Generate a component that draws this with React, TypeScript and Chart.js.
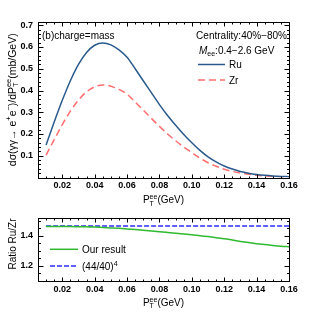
import React, { useEffect, useRef } from 'react';
import { Chart, registerables } from 'chart.js';

Chart.register(...registerables);

const FONT = '"Liberation Sans", Arial, sans-serif';

// ---- data ----
const pT = [
  0.010, 0.015, 0.020, 0.025, 0.030, 0.035, 0.040, 0.045, 0.050, 0.055,
  0.060, 0.065, 0.070, 0.075, 0.080, 0.085, 0.090, 0.095, 0.100, 0.105,
  0.110, 0.115, 0.120, 0.125, 0.130, 0.135, 0.140, 0.145, 0.150, 0.155, 0.160,
];
const ruYield = [
  0.150, 0.255, 0.355, 0.445, 0.520, 0.575, 0.608, 0.618, 0.610, 0.587,
  0.553, 0.500, 0.445, 0.390, 0.335, 0.285, 0.240, 0.198, 0.160, 0.125,
  0.095, 0.072, 0.053, 0.039, 0.028, 0.020, 0.014, 0.010, 0.007, 0.005, 0.004,
];
const zrYield = [
  0.103, 0.174, 0.243, 0.305, 0.356, 0.394, 0.417, 0.425, 0.420, 0.405,
  0.383, 0.347, 0.310, 0.272, 0.235, 0.200, 0.169, 0.140, 0.114, 0.089,
  0.068, 0.052, 0.038, 0.028, 0.021, 0.015, 0.010, 0.0075, 0.0052, 0.0038, 0.003,
];
const ratioOurs = [
  1.462, 1.462, 1.461, 1.461, 1.460, 1.459, 1.458, 1.455, 1.452, 1.449,
  1.445, 1.441, 1.437, 1.432, 1.427, 1.422, 1.417, 1.412, 1.407, 1.400,
  1.394, 1.387, 1.380, 1.371, 1.362, 1.354, 1.347, 1.341, 1.335, 1.330, 1.327,
];
const refX = [0.01, 0.16];
const refRatio = [1.4641, 1.4641];

const xTickVals = [0.02, 0.04, 0.06, 0.08, 0.10, 0.12, 0.14, 0.16];
const topYTickVals = [0.1, 0.2, 0.3, 0.4, 0.5, 0.6, 0.7];
const botYTickVals = [1.2, 1.4];

// ---- rich text helper ----
type Seg = { t?: string; it?: boolean; sup?: string; sub?: string };

function fnt(size: number, it?: boolean, bold?: boolean) {
  return `${it ? 'italic ' : ''}${bold ? 'bold ' : ''}${size}px ${FONT}`;
}

function segW(ctx: CanvasRenderingContext2D, s: Seg, size: number) {
  let w = 0;
  if (s.t) {
    ctx.font = fnt(size, s.it);
    w += ctx.measureText(s.t).width;
  }
  ctx.font = fnt(size * 0.7);
  let sw = 0;
  if (s.sup) sw = Math.max(sw, ctx.measureText(s.sup).width);
  if (s.sub) sw = Math.max(sw, ctx.measureText(s.sub).width);
  return w + sw;
}

function drawRich(
  ctx: CanvasRenderingContext2D,
  segs: Seg[],
  x: number,
  y: number,
  size: number,
  align: 'left' | 'center' | 'right' = 'left'
) {
  const total = segs.reduce((a, s) => a + segW(ctx, s, size), 0);
  let cx = align === 'center' ? x - total / 2 : align === 'right' ? x - total : x;
  ctx.textAlign = 'left';
  ctx.textBaseline = 'alphabetic';
  ctx.fillStyle = '#000';
  for (const s of segs) {
    if (s.t) {
      ctx.font = fnt(size, s.it);
      ctx.fillText(s.t, cx, y);
      cx += ctx.measureText(s.t).width;
    }
    ctx.font = fnt(size * 0.7);
    let sw = 0;
    if (s.sup) {
      ctx.fillText(s.sup, cx, y - size * 0.4);
      sw = Math.max(sw, ctx.measureText(s.sup).width);
    }
    if (s.sub) {
      ctx.fillText(s.sub, cx, y + size * 0.25);
      sw = Math.max(sw, ctx.measureText(s.sub).width);
    }
    cx += sw;
  }
}

// ---- frame + inside ticks ----
function drawFrame(
  chart: any,
  xMinor: number,
  xMajor: number,
  yMinor: number,
  yMajor: number,
  xLen: [number, number],
  yLen: [number, number]
) {
  const { ctx, chartArea: a, scales } = chart;
  const xs = scales.x;
  const ys = scales.y;
  ctx.save();
  ctx.strokeStyle = '#000';
  ctx.lineWidth = 1;
  const L = Math.round(a.left) + 0.5;
  const R = Math.round(a.right) + 0.5;
  const T = Math.round(a.top) + 0.5;
  const B = Math.round(a.bottom) + 0.5;
  ctx.strokeRect(L, T, R - L, B - T);
  ctx.beginPath();
  const eps = 1e-9;
  const xn0 = Math.ceil((xs.min - eps) / xMinor);
  const xn1 = Math.floor((xs.max + eps) / xMinor);
  for (let n = xn0; n <= xn1; n++) {
    const v = n * xMinor;
    const isMaj = Math.abs(v / xMajor - Math.round(v / xMajor)) < 1e-6;
    const len = isMaj ? xLen[0] : xLen[1];
    const px = Math.round(xs.getPixelForValue(v)) + 0.5;
    ctx.moveTo(px, B);
    ctx.lineTo(px, B - len);
    ctx.moveTo(px, T);
    ctx.lineTo(px, T + len);
  }
  const yn0 = Math.ceil((ys.min - eps) / yMinor);
  const yn1 = Math.floor((ys.max + eps) / yMinor);
  for (let n = yn0; n <= yn1; n++) {
    const v = n * yMinor;
    const isMaj = Math.abs(v / yMajor - Math.round(v / yMajor)) < 1e-6;
    const len = isMaj ? yLen[0] : yLen[1];
    const py = Math.round(ys.getPixelForValue(v)) + 0.5;
    ctx.moveTo(L, py);
    ctx.lineTo(L + len, py);
    ctx.moveTo(R, py);
    ctx.lineTo(R - len, py);
  }
  ctx.stroke();
  ctx.restore();
}

const tickFont = { family: FONT, size: 9, weight: 'bold' as const };

function xScale(height: number) {
  return {
    type: 'linear' as const,
    min: 0.005,
    max: 0.16,
    grid: { display: false, drawTicks: false },
    border: { display: false },
    afterBuildTicks: (s: any) => {
      s.ticks = xTickVals.map((v) => ({ value: v }));
    },
    afterFit: (s: any) => {
      s.height = height;
    },
    ticks: {
      callback: (v: any) => Number(v).toFixed(2),
      font: tickFont,
      color: '#000',
      padding: 3,
      maxRotation: 0,
      autoSkip: false,
    },
  };
}

const COL_RU = '#2a5a8c';
const COL_ZR = '#ff6e6e';
const COL_GREEN = '#2fba2f';
const COL_BLUE = '#2e2eff';

export default function App() {
  const topRef = useRef<HTMLCanvasElement | null>(null);
  const botRef = useRef<HTMLCanvasElement | null>(null);

  useEffect(() => {
    const topCanvas = topRef.current!;
    const botCanvas = botRef.current!;

    const topPlugin = {
      id: 'topDecor',
      afterDatasetsDraw(chart: any) {
        drawFrame(chart, 0.005, 0.02, 0.02, 0.1, [4, 2], [5, 2.5]);
      },
      afterDraw(chart: any) {
        const ctx = chart.ctx as CanvasRenderingContext2D;
        const a = chart.chartArea;
        ctx.save();
        drawRich(ctx, [{ t: '(b)charge=mass' }], 42, 38.5, 10, 'left');
        drawRich(ctx, [{ t: 'Centrality:40%−80%' }], 287, 38.5, 10, 'right');
        drawRich(ctx, [{ t: 'M', it: true, sub: 'ee' }, { t: ':0.4−2.6 GeV' }], 199, 53.5, 10, 'left');
        ctx.lineWidth = 1.5;
        ctx.strokeStyle = COL_RU;
        ctx.setLineDash([]);
        ctx.beginPath();
        ctx.moveTo(198, 64.5);
        ctx.lineTo(225, 64.5);
        ctx.stroke();
        ctx.strokeStyle = COL_ZR;
        ctx.setLineDash([7, 4]);
        ctx.beginPath();
        ctx.moveTo(198, 80);
        ctx.lineTo(225, 80);
        ctx.stroke();
        ctx.setLineDash([]);
        drawRich(ctx, [{ t: 'Ru' }], 229, 68, 10, 'left');
        drawRich(ctx, [{ t: 'Zr' }], 229, 83.5, 10, 'left');
        drawRich(ctx, [{ t: 'P', sub: 'T', sup: 'ee' }, { t: '(GeV)' }], (a.left + a.right) / 2, 203, 10, 'center');
        ctx.translate(15.5, (a.top + a.bottom) / 2);
        ctx.rotate(-Math.PI / 2);
        drawRich(
          ctx,
          [
            { t: 'dσ(γγ→ e', sup: '+' },
            { t: 'e', sup: '−' },
            { t: ')/dP', sub: 'T', sup: 'ee' },
            { t: '(mb/GeV)' },
          ],
          0,
          0,
          10.5,
          'center'
        );
        ctx.restore();
      },
    };

    const topChart = new Chart(topCanvas, {
      type: 'line',
      data: {
        datasets: [
          {
            label: 'Ru',
            data: pT.map((x, i) => ({ x, y: ruYield[i] })),
            borderColor: COL_RU,
            borderWidth: 1.5,
            pointRadius: 0,
            fill: false,
            cubicInterpolationMode: 'monotone',
          },
          {
            label: 'Zr',
            data: pT.map((x, i) => ({ x, y: zrYield[i] })),
            borderColor: COL_ZR,
            borderWidth: 1.5,
            borderDash: [7, 4],
            pointRadius: 0,
            fill: false,
            cubicInterpolationMode: 'monotone',
          },
        ],
      },
      options: {
        responsive: false,
        animation: false,
        events: [],
        layout: { padding: { left: 0, right: 31, top: 22, bottom: 0 } },
        plugins: { legend: { display: false }, tooltip: { enabled: false }, title: { display: false } },
        scales: {
          x: xScale(206 - 177.5) as any,
          y: {
            type: 'linear',
            min: 0,
            max: 0.715,
            grid: { display: false, drawTicks: false },
            border: { display: false },
            afterBuildTicks: (s: any) => {
              s.ticks = topYTickVals.map((v) => ({ value: v }));
            },
            afterFit: (s: any) => {
              s.width = 38;
            },
            ticks: {
              callback: (v: any) => Number(v).toFixed(1),
              font: tickFont,
              color: '#000',
              padding: 5,
              autoSkip: false,
            },
          },
        },
      },
      plugins: [topPlugin],
    });

    const botPlugin = {
      id: 'botDecor',
      afterDatasetsDraw(chart: any) {
        drawFrame(chart, 0.005, 0.02, 0.05, 0.2, [4, 2], [5, 2.5]);
      },
      afterDraw(chart: any) {
        const ctx = chart.ctx as CanvasRenderingContext2D;
        const a = chart.chartArea;
        const off = 206;
        ctx.save();
        ctx.lineWidth = 1.5;
        ctx.strokeStyle = COL_GREEN;
        ctx.setLineDash([]);
        ctx.beginPath();
        ctx.moveTo(50, 249.3 - off);
        ctx.lineTo(78, 249.3 - off);
        ctx.stroke();
        ctx.strokeStyle = COL_BLUE;
        ctx.setLineDash([5, 2]);
        ctx.beginPath();
        ctx.moveTo(50, 266 - off);
        ctx.lineTo(78, 266 - off);
        ctx.stroke();
        ctx.setLineDash([]);
        drawRich(ctx, [{ t: 'Our result' }], 82, 252.8 - off, 10, 'left');
        drawRich(ctx, [{ t: '(44/40)', sup: '4' }], 82, 269.5 - off, 10, 'left');
        drawRich(ctx, [{ t: 'P', sub: 'T', sup: 'ee' }, { t: '(GeV)' }], (a.left + a.right) / 2, 305.5 - off, 10, 'center');
        ctx.translate(15.5, 244 - off);
        ctx.rotate(-Math.PI / 2);
        drawRich(ctx, [{ t: 'Ratio Ru/Zr' }], 0, 0, 10, 'center');
        ctx.restore();
      },
    };

    const botChart = new Chart(botCanvas, {
      type: 'line',
      data: {
        datasets: [
          {
            label: 'Our result',
            data: pT.map((x, i) => ({ x, y: ratioOurs[i] })),
            borderColor: COL_GREEN,
            borderWidth: 1.5,
            pointRadius: 0,
            fill: false,
            cubicInterpolationMode: 'monotone',
          },
          {
            label: '(44/40)^4',
            data: refX.map((x, i) => ({ x, y: refRatio[i] })),
            borderColor: COL_BLUE,
            borderWidth: 1.5,
            borderDash: [5, 2],
            pointRadius: 0,
            fill: false,
          },
        ],
      },
      options: {
        responsive: false,
        animation: false,
        events: [],
        layout: { padding: { left: 0, right: 31, top: 218.3 - 206, bottom: 0 } },
        plugins: { legend: { display: false }, tooltip: { enabled: false }, title: { display: false } },
        scales: {
          x: xScale(113 - (280.7 - 206)) as any,
          y: {
            type: 'linear',
            min: 1.1,
            max: 1.516,
            grid: { display: false, drawTicks: false },
            border: { display: false },
            afterBuildTicks: (s: any) => {
              s.ticks = botYTickVals.map((v) => ({ value: v }));
            },
            afterFit: (s: any) => {
              s.width = 38;
            },
            ticks: {
              callback: (v: any) => Number(v).toFixed(1),
              font: tickFont,
              color: '#000',
              padding: 5,
              autoSkip: false,
            },
          },
        },
      },
      plugins: [botPlugin],
    });

    return () => {
      topChart.destroy();
      botChart.destroy();
    };
  }, []);

  return (
    <div style={{ position: 'fixed', left: 0, top: 0, width: 320, height: 319, background: '#fff' }}>
      <canvas ref={topRef} width={320} height={206} style={{ position: 'absolute', left: 0, top: 0, width: 320, height: 206 }} />
      <canvas ref={botRef} width={320} height={113} style={{ position: 'absolute', left: 0, top: 206, width: 320, height: 113 }} />
    </div>
  );
}
